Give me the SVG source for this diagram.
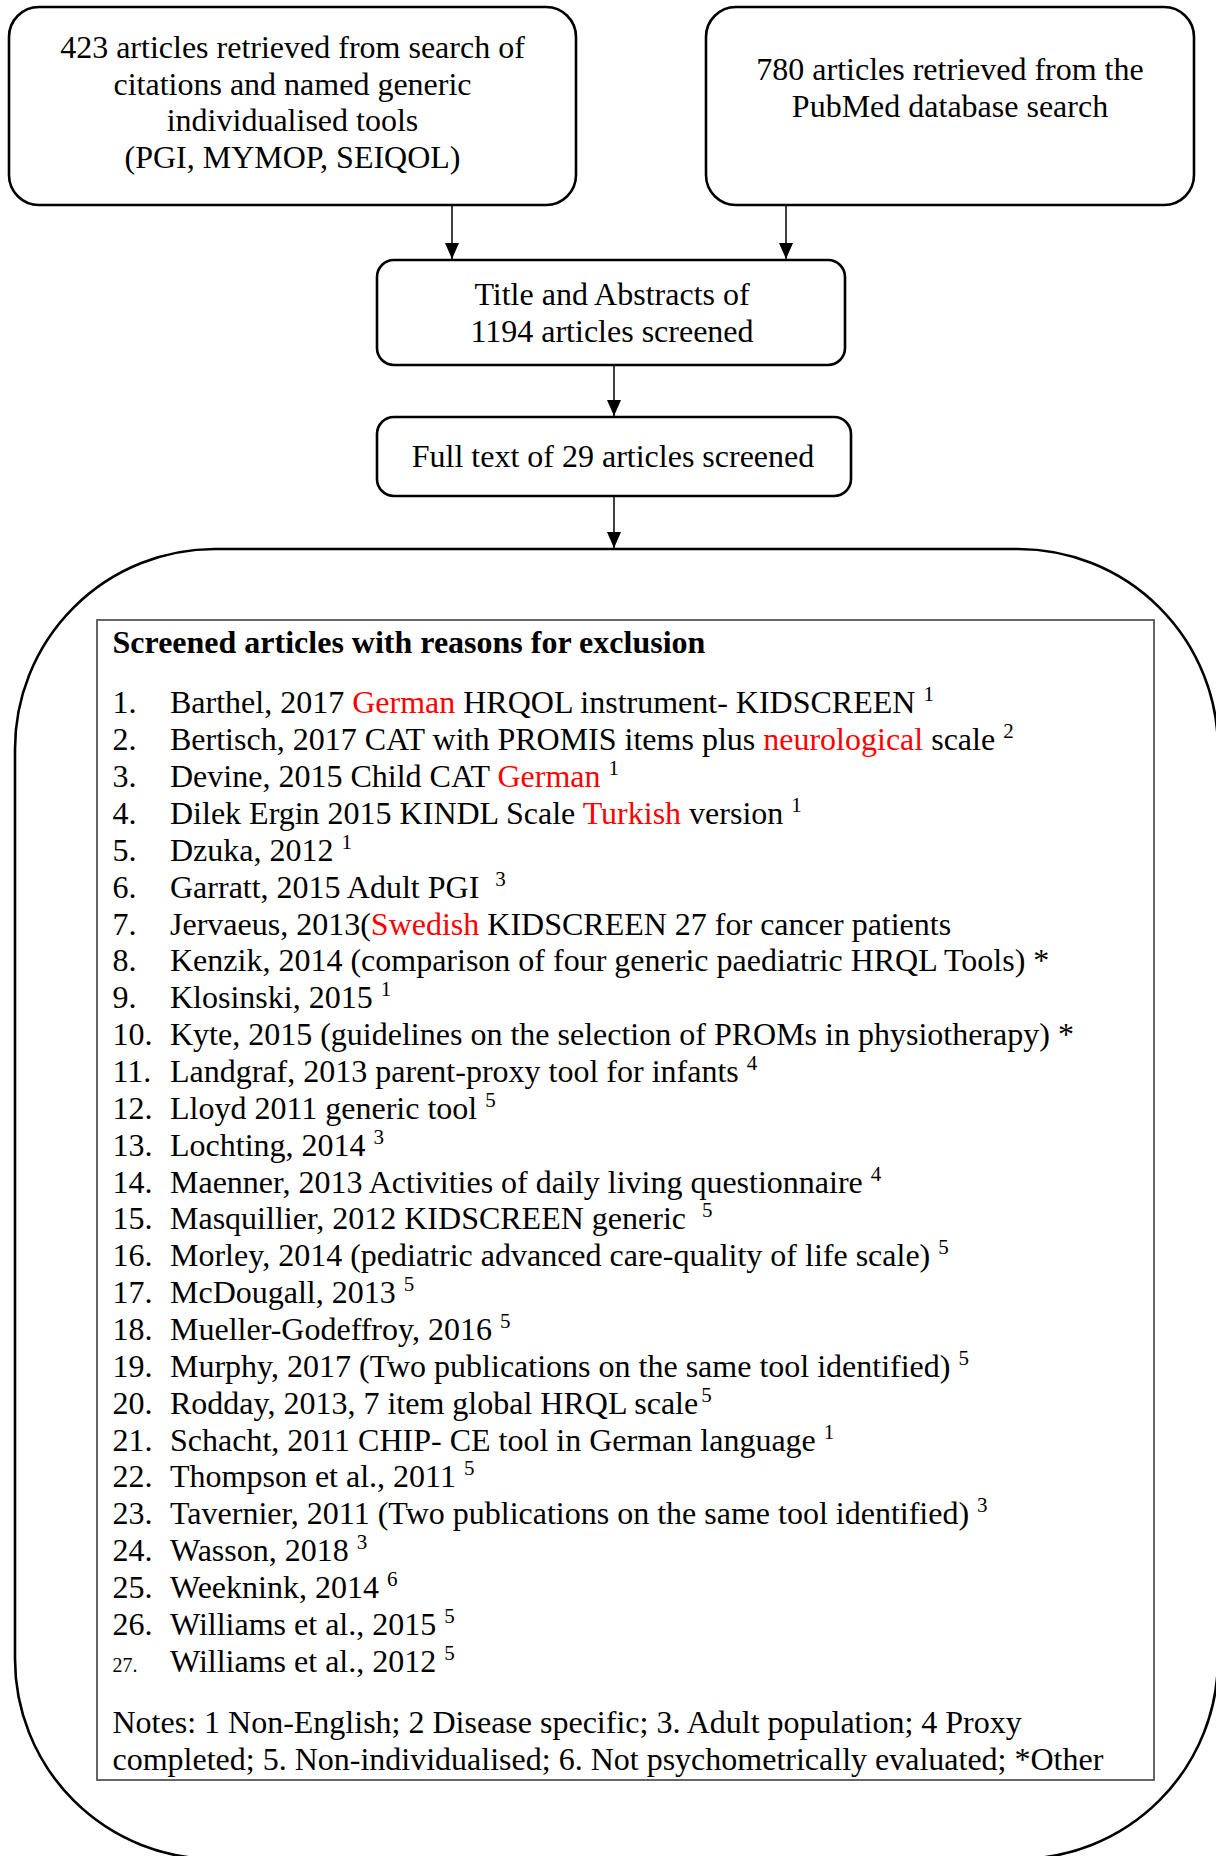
<svg xmlns="http://www.w3.org/2000/svg" width="1216" height="1856" viewBox="0 0 1216 1856">
<style>
text{font-family:"Liberation Serif","Times New Roman",serif;font-size:32px;fill:#000}
.c{text-anchor:middle}
.b{font-weight:bold}
.r{fill:#ff0000}
.s{font-size:21px}
.n{font-size:20px}
.box{fill:#fff;stroke:#000;stroke-width:2.6}
.ln{stroke:#000;stroke-width:1.5;fill:none}
</style>
<defs>
<marker id="ah" markerWidth="16" markerHeight="14" refX="16" refY="7" orient="auto" markerUnits="userSpaceOnUse" viewBox="0 0 16 14">
<path d="M0,0 L16,7 L0,14 Z" fill="#000"/>
</marker>
</defs>
<rect width="1216" height="1856" fill="#fff"/>
<g id="connectors">
<line class="ln" x1="452" y1="205" x2="452" y2="259" marker-end="url(#ah)"/>
<line class="ln" x1="786" y1="205" x2="786" y2="259" marker-end="url(#ah)"/>
<line class="ln" x1="614" y1="365" x2="614" y2="416" marker-end="url(#ah)"/>
<line class="ln" x1="614" y1="496" x2="614" y2="548" marker-end="url(#ah)"/>
</g>
<g id="node-search-citations">
<rect class="box" x="9" y="7" width="567" height="198" rx="30"/>
<text class="c" x="292.5" y="58">423 articles retrieved from search of</text>
<text class="c" x="292.5" y="95">citations and named generic</text>
<text class="c" x="292.5" y="131">individualised tools</text>
<text class="c" x="292.5" y="168">(PGI, MYMOP, SEIQOL)</text>
</g>
<g id="node-pubmed">
<rect class="box" x="706" y="7" width="488" height="198" rx="30"/>
<text class="c" x="950" y="80">780 articles retrieved from the</text>
<text class="c" x="950" y="117">PubMed database search</text>
</g>
<g id="node-title-abstracts">
<rect class="box" x="377" y="260" width="468" height="105" rx="17"/>
<text class="c" x="612" y="305">Title and Abstracts of</text>
<text class="c" x="612" y="342">1194 articles screened</text>
</g>
<g id="node-full-text">
<rect class="box" x="377" y="417" width="474" height="79" rx="17"/>
<text class="c" x="613" y="467">Full text of 29 articles screened</text>
</g>
<g id="node-excluded">
<rect class="box" x="15" y="549" width="1203" height="1310" rx="200"/>
<rect x="97" y="620" width="1057" height="1160" fill="#fff" stroke="#555" stroke-width="1.8"/>
<text class="b" x="112.5" y="653">Screened articles with reasons for exclusion</text>
<g id="list">
<text x="112.5" y="713.3">1.</text><text x="170" y="713.3">Barthel, 2017 <tspan class="r">German</tspan> HRQOL instrument- KIDSCREEN <tspan class="s" dy="-12">1</tspan></text>
<text x="112.5" y="750.2">2.</text><text x="170" y="750.2">Bertisch, 2017 CAT with PROMIS items plus <tspan class="r">neurological</tspan> scale <tspan class="s" dy="-12">2</tspan></text>
<text x="112.5" y="787">3.</text><text x="170" y="787">Devine, 2015 Child CAT <tspan class="r">German</tspan> <tspan class="s" dy="-12">1</tspan></text>
<text x="112.5" y="823.9">4.</text><text x="170" y="823.9">Dilek Ergin 2015 KINDL Scale <tspan class="r">Turkish</tspan> version <tspan class="s" dy="-12">1</tspan></text>
<text x="112.5" y="860.7">5.</text><text x="170" y="860.7">Dzuka, 2012 <tspan class="s" dy="-12">1</tspan></text>
<text x="112.5" y="897.6">6.</text><text x="170" y="897.6" xml:space="preserve">Garratt, 2015 Adult PGI  <tspan class="s" dy="-12">3</tspan></text>
<text x="112.5" y="934.5">7.</text><text x="170" y="934.5">Jervaeus, 2013(<tspan class="r">Swedish</tspan> KIDSCREEN 27 for cancer patients</text>
<text x="112.5" y="971.3">8.</text><text x="170" y="971.3">Kenzik, 2014 (comparison of four generic paediatric HRQL Tools) *</text>
<text x="112.5" y="1008.2">9.</text><text x="170" y="1008.2">Klosinski, 2015 <tspan class="s" dy="-12">1</tspan></text>
<text x="112.5" y="1045">10.</text><text x="170" y="1045">Kyte, 2015 (guidelines on the selection of PROMs in physiotherapy) *</text>
<text x="112.5" y="1081.9">11.</text><text x="170" y="1081.9">Landgraf, 2013 parent-proxy tool for infants <tspan class="s" dy="-12">4</tspan></text>
<text x="112.5" y="1118.8">12.</text><text x="170" y="1118.8">Lloyd 2011 generic tool <tspan class="s" dy="-12">5</tspan></text>
<text x="112.5" y="1155.6">13.</text><text x="170" y="1155.6">Lochting, 2014 <tspan class="s" dy="-12">3</tspan></text>
<text x="112.5" y="1192.5">14.</text><text x="170" y="1192.5">Maenner, 2013 Activities of daily living questionnaire <tspan class="s" dy="-12">4</tspan></text>
<text x="112.5" y="1229.3">15.</text><text x="170" y="1229.3" xml:space="preserve">Masquillier, 2012 KIDSCREEN generic  <tspan class="s" dy="-12">5</tspan></text>
<text x="112.5" y="1266.2">16.</text><text x="170" y="1266.2">Morley, 2014 (pediatric advanced care-quality of life scale) <tspan class="s" dy="-12">5</tspan></text>
<text x="112.5" y="1303.1">17.</text><text x="170" y="1303.1">McDougall, 2013 <tspan class="s" dy="-12">5</tspan></text>
<text x="112.5" y="1339.9">18.</text><text x="170" y="1339.9">Mueller-Godeffroy, 2016 <tspan class="s" dy="-12">5</tspan></text>
<text x="112.5" y="1376.8">19.</text><text x="170" y="1376.8">Murphy, 2017 (Two publications on the same tool identified) <tspan class="s" dy="-12">5</tspan></text>
<text x="112.5" y="1413.6">20.</text><text x="170" y="1413.6">Rodday, 2013, 7 item global HRQL scale<tspan class="s" dx="3" dy="-12">5</tspan></text>
<text x="112.5" y="1450.5">21.</text><text x="170" y="1450.5">Schacht, 2011 CHIP- CE tool in German language <tspan class="s" dy="-12">1</tspan></text>
<text x="112.5" y="1487.4">22.</text><text x="170" y="1487.4">Thompson et al., 2011 <tspan class="s" dy="-12">5</tspan></text>
<text x="112.5" y="1524.2">23.</text><text x="170" y="1524.2">Tavernier, 2011 (Two publications on the same tool identified) <tspan class="s" dy="-12">3</tspan></text>
<text x="112.5" y="1561.1">24.</text><text x="170" y="1561.1">Wasson, 2018 <tspan class="s" dy="-12">3</tspan></text>
<text x="112.5" y="1597.9">25.</text><text x="170" y="1597.9">Weeknink, 2014 <tspan class="s" dy="-12">6</tspan></text>
<text x="112.5" y="1634.8">26.</text><text x="170" y="1634.8">Williams et al., 2015 <tspan class="s" dy="-12">5</tspan></text>
<text class="n" x="112.5" y="1671.7">27.</text><text x="170" y="1671.7">Williams et al., 2012 <tspan class="s" dy="-12">5</tspan></text>
</g>
<text x="112.5" y="1733">Notes: 1 Non-English; 2 Disease specific; 3. Adult population; 4 Proxy</text>
<text x="112.5" y="1770">completed; 5. Non-individualised; 6. Not psychometrically evaluated; *Other</text>
</g>
</svg>
